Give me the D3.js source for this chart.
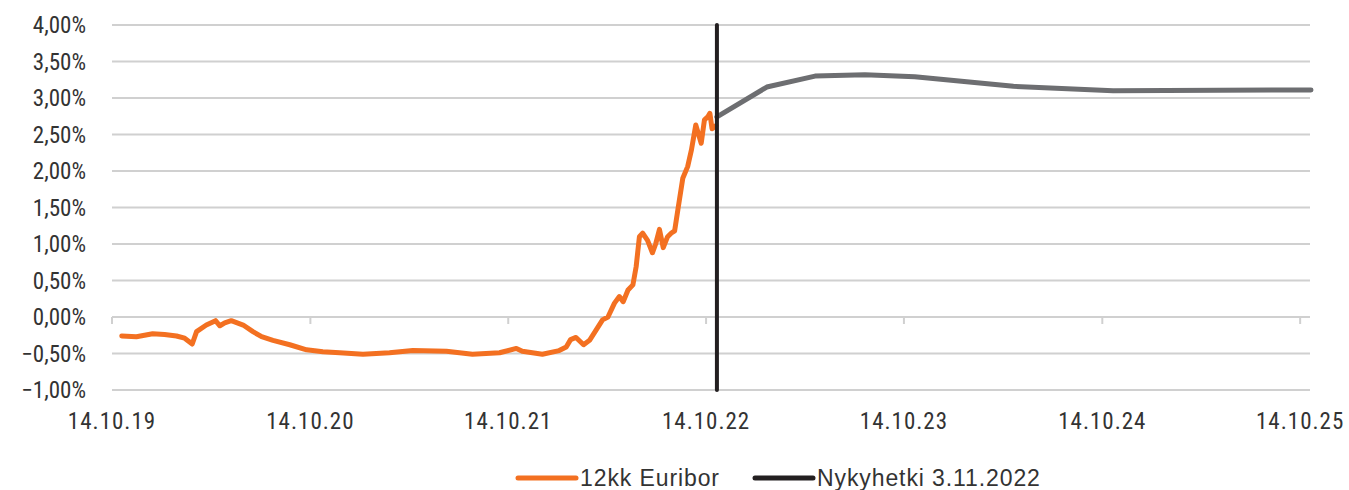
<!DOCTYPE html>
<html>
<head>
<meta charset="utf-8">
<script src="https://cdn.jsdelivr.net/npm/d3@7"></script>
<style>
  html, body {
    margin: 0;
    padding: 0;
    background: #ffffff;
  }
  svg text {
    font-family: 'Liberation Sans Narrow', 'Roboto Condensed', 'Liberation Sans', sans-serif;
    fill: #333333;
  }
  svg text.legend-label {
    font-family: 'Liberation Sans', Arial, sans-serif;
  }
</style>
</head>
<body>
<svg id="chart" width="1349" height="490"></svg>
<script>
// 12 kk Euribor (roughly every 2-4 weeks,
// denser where the rate moves fast).
const euriborDates = [
  '2019-11-01', '2019-11-28', '2019-12-28', '2020-01-19', '2020-02-10',
  '2020-02-25', '2020-03-10', '2020-03-18', '2020-04-05', '2020-04-22',
  '2020-04-30', '2020-05-09', '2020-05-21', '2020-06-12', '2020-06-30',
  '2020-07-16', '2020-08-06', '2020-09-06', '2020-10-07', '2020-11-06',
  '2020-12-07', '2021-01-19', '2021-03-09', '2021-04-21', '2021-06-22',
  '2021-08-09', '2021-09-28', '2021-10-29', '2021-11-09', '2021-12-16',
  '2022-01-16', '2022-01-29', '2022-02-06', '2022-02-16', '2022-03-02',
  '2022-03-13', '2022-03-25', '2022-04-06', '2022-04-16', '2022-04-28',
  '2022-05-07', '2022-05-14', '2022-05-23', '2022-06-01', '2022-06-07',
  '2022-06-13', '2022-06-19', '2022-06-28', '2022-07-07', '2022-07-13',
  '2022-07-20', '2022-07-27', '2022-08-04', '2022-08-11', '2022-08-17',
  '2022-08-23', '2022-09-01', '2022-09-10', '2022-09-17', '2022-09-25',
  '2022-10-05', '2022-10-11', '2022-10-17', '2022-10-21', '2022-10-25',
  '2022-11-01',
];
const euriborValues = [
  -0.26, -0.27, -0.23, -0.24, -0.26,
  -0.29, -0.37, -0.20, -0.11, -0.05,
  -0.12, -0.08, -0.05, -0.11, -0.20,
  -0.27, -0.32, -0.38, -0.45, -0.475,
  -0.49, -0.51, -0.49, -0.46, -0.47,
  -0.51, -0.49, -0.43, -0.47, -0.51,
  -0.46, -0.41, -0.31, -0.28, -0.38,
  -0.32, -0.18, -0.04, 0.00, 0.19,
  0.28, 0.21, 0.37, 0.44, 0.69,
  1.10, 1.15, 1.05, 0.88, 1.00,
  1.20, 0.95, 1.10, 1.15, 1.18,
  1.47, 1.90, 2.06, 2.29, 2.63,
  2.38, 2.70, 2.74, 2.79, 2.58,
  2.62,
];

// Market expectation from 3.11.2022 onwards (grey line).
const forecastDates = [
  '2022-11-03', '2023-02-03', '2023-05-03', '2023-08-03', '2023-11-03',
  '2024-05-03', '2024-11-03', '2025-11-03',
];
const forecastValues = [2.74, 3.15, 3.30, 3.32, 3.29, 3.16, 3.10, 3.11];

const nowDate = '2022-11-03';
const yTickValues = [-1, -0.5, 0, 0.5, 1, 1.5, 2, 2.5, 3, 3.5, 4];
const xTickDates = [
  '2019-10-14', '2020-10-14', '2021-10-14', '2022-10-14', '2023-10-14',
  '2024-10-14', '2025-10-14',
];
const legendLabels = ['12kk Euribor', 'Nykyhetki 3.11.2022'];

const COLOR_EURIBOR = '#f37021';
const COLOR_FORECAST = '#6d6e71';
const COLOR_NOW = '#231f20';
const COLOR_GRID = '#d0d0d0';

const parseDate = d3.utcParse('%Y-%m-%d');
const formatTick = d3.utcFormat('%d.%m.%y');
const formatPercent = (v) => d3.format('.2f')(v).replace('.', ',') + '%';

const plot = {left: 112, right: 1311, top: 25, bottom: 390};

const x = d3.scaleUtc()
  .domain([parseDate('2019-10-14'), parseDate('2025-11-03')])
  .range([plot.left, plot.right]);

const y = d3.scaleLinear()
  .domain([-1, 4])
  .range([plot.bottom, plot.top]);

const svg = d3.select('#chart');

// Horizontal gridlines. The 0 % line doubles as the x axis.
svg.append('g')
  .selectAll('line')
  .data(yTickValues)
  .join('line')
  .attr('x1', plot.left)
  .attr('x2', plot.right - 1)
  .attr('y1', (d) => y(d))
  .attr('y2', (d) => y(d))
  .style('stroke', COLOR_GRID)
  .style('stroke-width', 2);

// Y axis labels.
svg.append('g')
  .selectAll('text')
  .data(yTickValues)
  .join('text')
  .attr('x', 86)
  .attr('y', (d) => y(d))
  .attr('dy', '0.35em')
  .attr('text-anchor', 'end')
  .style('font-size', '23px')
  .text(formatPercent);

// Small tick marks hanging below the 0 % line.
const xTicks = xTickDates.map(parseDate);
svg.append('g')
  .selectAll('line')
  .data(xTicks)
  .join('line')
  .attr('x1', (d) => x(d))
  .attr('x2', (d) => x(d))
  .attr('y1', y(0))
  .attr('y2', y(0) + 7)
  .style('stroke', COLOR_GRID)
  .style('stroke-width', 2);

// X axis labels sit under the plot, not under the 0 % line.
svg.append('g')
  .selectAll('text')
  .data(xTicks)
  .join('text')
  .attr('x', (d) => x(d))
  .attr('y', 421)
  .attr('dy', '0.35em')
  .attr('text-anchor', 'middle')
  .style('font-size', '23px')
  .style('letter-spacing', '1px')
  .text(formatTick);

const line = d3.line()
  .x((d) => x(d.date))
  .y((d) => y(d.value));

const euribor = euriborDates.map((d, i) => ({date: parseDate(d), value: euriborValues[i]}));
const forecast = forecastDates.map((d, i) => ({date: parseDate(d), value: forecastValues[i]}));

svg.append('path')
  .datum(euribor)
  .attr('d', line)
  .style('fill', 'none')
  .style('stroke', COLOR_EURIBOR)
  .style('stroke-width', 5)
  .style('stroke-linejoin', 'round')
  .style('stroke-linecap', 'round');

svg.append('path')
  .datum(forecast)
  .attr('d', line)
  .style('fill', 'none')
  .style('stroke', COLOR_FORECAST)
  .style('stroke-width', 5)
  .style('stroke-linejoin', 'round')
  .style('stroke-linecap', 'round');

// "Now" marker on top of both series.
svg.append('line')
  .attr('x1', x(parseDate(nowDate)))
  .attr('x2', x(parseDate(nowDate)))
  .attr('y1', plot.top)
  .attr('y2', plot.bottom)
  .style('stroke', COLOR_NOW)
  .style('stroke-width', 4)
  .style('stroke-linecap', 'round');

// Legend: orange series and the black vertical marker.
const legendItems = [
  {label: legendLabels[0], color: COLOR_EURIBOR, x: 518},
  {label: legendLabels[1], color: COLOR_NOW, x: 755},
];
const legend = svg.append('g')
  .selectAll('g')
  .data(legendItems)
  .join('g')
  .attr('transform', (d) => `translate(${d.x},478)`);

legend.append('line')
  .attr('x1', 0)
  .attr('x2', 58)
  .style('stroke', (d) => d.color)
  .style('stroke-width', 5)
  .style('stroke-linecap', 'round');

legend.append('text')
  .attr('class', 'legend-label')
  .attr('x', 62)
  .attr('dy', '0.35em')
  .style('font-size', '23px')
  .style('letter-spacing', '0.9px')
  .text((d) => d.label);
</script>
</body>
</html>
